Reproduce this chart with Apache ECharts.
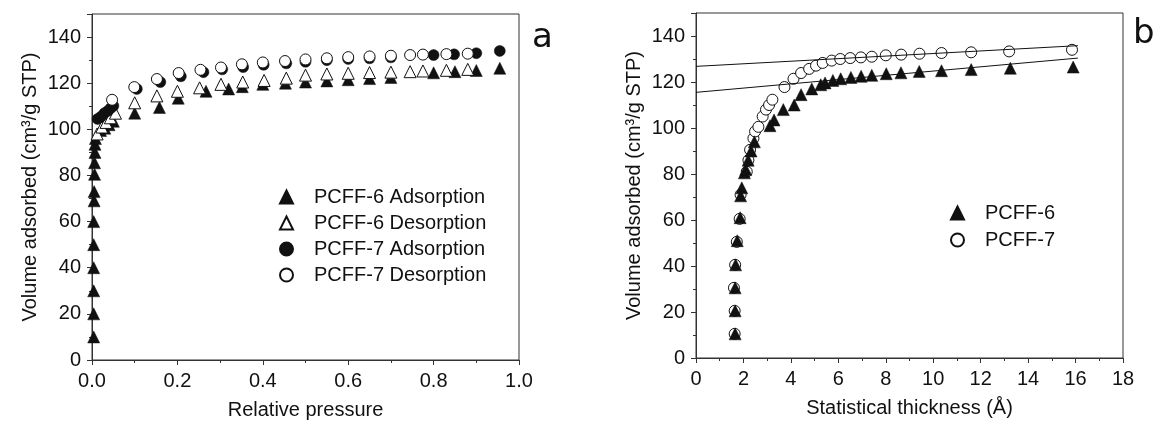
<!DOCTYPE html>
<html>
<head>
<meta charset="utf-8">
<script src="https://cdn.jsdelivr.net/npm/echarts@6/dist/echarts.min.js"></script>
<style>
  html, body { margin: 0; padding: 0; background: #fff; }
  #chart { width: 1163px; height: 425px; }
</style>
</head>
<body>
<div id="chart"></div>
<script>
// panel a: isotherms (relative pressure vs volume adsorbed)
const p6AdsX = [0.004, 0.004, 0.004, 0.004, 0.004, 0.004, 0.005, 0.005, 0.006, 0.006, 0.007, 0.007, 0.008, 0.02, 0.03, 0.04, 0.05, 0.1, 0.158, 0.202, 0.267, 0.32, 0.352, 0.4, 0.453, 0.5, 0.55, 0.6, 0.65, 0.7, 0.8, 0.85, 0.9, 0.955]
const p6AdsY = [10, 20, 30, 40, 50, 60, 69, 73, 80.5, 85.5, 90, 93.5, 96, 99.5, 100.5, 102, 103.5, 107, 109.5, 113.5, 116.5, 117.5, 118.5, 119.5, 120, 120.5, 121, 121.5, 122, 122.5, 124.5, 125, 125.5, 126.5]
const p6DesX = [0.012, 0.023, 0.033, 0.043, 0.055, 0.1, 0.152, 0.2, 0.252, 0.302, 0.353, 0.403, 0.455, 0.5, 0.55, 0.6, 0.65, 0.7, 0.745, 0.775, 0.83, 0.88]
const p6DesY = [98, 101, 103, 105, 107, 111.5, 114.5, 116.5, 118, 119.5, 120.5, 121.2, 122.2, 123.5, 124, 124.3, 124.6, 124.8, 125, 125.3, 125.6, 126]
const p7AdsX = [0.013, 0.021, 0.029, 0.037, 0.044, 0.05, 0.105, 0.16, 0.208, 0.261, 0.305, 0.354, 0.402, 0.455, 0.5, 0.55, 0.6, 0.65, 0.7, 0.8, 0.848, 0.9, 0.955]
const p7AdsY = [104.5, 105.5, 107, 108, 109.2, 110.2, 117.5, 120.5, 123, 124.8, 126, 127, 128, 128.6, 129.3, 130, 130.5, 130.8, 131.2, 132.2, 132.5, 133, 134]
const p7DesX = [0.047, 0.099, 0.152, 0.203, 0.254, 0.302, 0.351, 0.4, 0.452, 0.5, 0.55, 0.6, 0.65, 0.7, 0.745, 0.775, 0.83, 0.88]
const p7DesY = [112.8, 118.3, 121.8, 124.4, 125.8, 126.8, 128.2, 129, 129.6, 130.3, 130.8, 131.3, 131.6, 131.9, 132.2, 132.4, 132.6, 132.8]

// panel b: t-plot (statistical thickness vs volume adsorbed)
const t6X = [1.65, 1.65, 1.65, 1.67, 1.74, 1.86, 1.88, 1.93, 2.04, 2.1, 2.2, 2.32, 2.46, 3.12, 3.29, 3.68, 4.14, 4.43, 4.88, 5.26, 5.44, 5.77, 6.1, 6.53, 6.96, 7.41, 8.02, 8.64, 9.41, 10.35, 11.6, 13.25, 15.9]
const t6Y = [10.5, 20.5, 30.5, 40.5, 51, 61, 70.5, 74, 80.5, 82, 86, 90, 94, 101, 103.5, 108, 110, 114.5, 117, 118.8, 119.6, 120.7, 121.4, 122, 122.5, 122.9, 123.6, 124, 124.6, 124.9, 125.4, 126, 126.5]
const t7X = [1.63, 1.63, 1.6, 1.65, 1.72, 1.84, 1.88, 2.14, 2.21, 2.28, 2.42, 2.49, 2.63, 2.81, 2.95, 3.08, 3.22, 3.73, 4.11, 4.43, 4.77, 5.06, 5.34, 5.72, 6.08, 6.5, 6.95, 7.41, 8.0, 8.65, 9.42, 10.35, 11.6, 13.2, 15.85]
const t7Y = [10.5, 20.5, 30.5, 40.5, 50.5, 60.5, 71, 81, 86, 90.5, 95.5, 98.5, 100.5, 105, 108, 110, 112.3, 117.8, 121.4, 123.9, 125.7, 127.1, 128.3, 129.3, 130, 130.4, 130.7, 131, 131.6, 131.9, 132.3, 132.6, 132.9, 133.3, 134]
// linear fits drawn in panel b (end points)
const fit6X = [0, 16.1]
const fit6Y = [115.5, 130.4]
const fit7X = [0, 16.1]
const fit7Y = [126.8, 135.8]

const FONT = 'Liberation Sans'
const INK = '#111'

function zip(xs, ys) {
  return xs.map((x, i) => [x, ys[i]])
}

function filled(symbol, size) {
  return { symbol: symbol, symbolSize: size, itemStyle: { color: INK, borderColor: INK, borderWidth: 0.5, opacity: 1 } }
}
function hollow(symbol, size) {
  return { symbol: symbol, symbolSize: size, itemStyle: { color: '#fff', borderColor: INK, borderWidth: 1, opacity: 1 } }
}

function xAx(grid, max, interval, name) {
  return {
    type: 'value', gridIndex: grid, min: 0, max: max, interval: interval,
    name: name, nameLocation: 'middle', nameGap: 40,
    nameTextStyle: { fontFamily: FONT, fontSize: 20, color: INK },
    axisLine: { show: true, onZero: false, lineStyle: { color: '#333', width: 1 } },
    axisTick: { show: true, inside: false, length: 5, lineStyle: { color: '#333' } },
    minorTick: { show: true, splitNumber: 2, length: 3, lineStyle: { color: '#333' } },
    axisLabel: { fontFamily: FONT, fontSize: 20, color: INK, margin: 11,
      formatter: (v) => interval < 1 ? v.toFixed(1) : String(v) },
    splitLine: { show: false }
  }
}
function yAx(grid) {
  return {
    type: 'value', gridIndex: grid, min: 0, max: 150, interval: 20,
    name: 'Volume adsorbed (cm³/g STP)', nameLocation: 'middle', nameGap: 52,
    nameTextStyle: { fontFamily: FONT, fontSize: 20, color: INK },
    axisLine: { show: true, onZero: false, lineStyle: { color: '#333', width: 1 } },
    axisTick: { show: true, inside: false, length: 5, lineStyle: { color: '#333' } },
    minorTick: { show: true, splitNumber: 2, length: 3, lineStyle: { color: '#333' } },
    axisLabel: { fontFamily: FONT, fontSize: 20, color: INK, margin: 11, showMaxLabel: false,
      formatter: (v) => (v % 20 === 0 ? String(v) : '') },
    splitLine: { show: false }
  }
}

const chart = echarts.init(document.getElementById('chart'), null, { renderer: 'canvas' })
chart.setOption({
  animation: false,
  backgroundColor: '#fff',
  grid: [
    { left: 92, top: 14, width: 427, height: 346, show: true, borderColor: '#333', borderWidth: 1 },
    { left: 696, top: 13, width: 427, height: 345, show: true, borderColor: '#333', borderWidth: 1 }
  ],
  xAxis: [xAx(0, 1, 0.2, 'Relative pressure'), xAx(1, 18, 2, 'Statistical thickness (Å)')],
  yAxis: [yAx(0), yAx(1)],
  legend: [
    {
      data: ['PCFF-6 Adsorption', 'PCFF-6 Desorption', 'PCFF-7 Adsorption', 'PCFF-7 Desorption'],
      orient: 'vertical', left: 279, top: 187, padding: 0, itemWidth: 13, itemHeight: 13, itemGap: 6,
      textStyle: { fontFamily: FONT, fontSize: 20, color: INK, padding: [0, 0, 0, 16] },
      selectedMode: false
    },
    {
      data: ['PCFF-6', 'PCFF-7'],
      orient: 'vertical', left: 950, top: 203, padding: 0, itemWidth: 13, itemHeight: 13, itemGap: 7,
      textStyle: { fontFamily: FONT, fontSize: 20, color: INK, padding: [0, 0, 0, 16] },
      selectedMode: false
    }
  ],
  graphic: [
    { type: 'text', left: 532, top: 21, style: { text: 'a', font: '34px "DejaVu Sans"', fill: INK } },
    { type: 'text', left: 1133, top: 17, style: { text: 'b', font: '34px "DejaVu Sans"', fill: INK } }
  ],
  series: [
    Object.assign({ name: 'PCFF-6 Adsorption', type: 'scatter', xAxisIndex: 0, yAxisIndex: 0, data: zip(p6AdsX, p6AdsY), z: 2 }, filled('triangle', 12)),
    Object.assign({ name: 'PCFF-6 Desorption', type: 'scatter', xAxisIndex: 0, yAxisIndex: 0, data: zip(p6DesX, p6DesY), z: 3 }, hollow('triangle', 12)),
    Object.assign({ name: 'PCFF-7 Adsorption', type: 'scatter', xAxisIndex: 0, yAxisIndex: 0, data: zip(p7AdsX, p7AdsY), z: 4 }, filled('circle', 11)),
    Object.assign({ name: 'PCFF-7 Desorption', type: 'scatter', xAxisIndex: 0, yAxisIndex: 0, data: zip(p7DesX, p7DesY), z: 5 }, hollow('circle', 11)),
    Object.assign({ name: 'PCFF-7', type: 'scatter', xAxisIndex: 1, yAxisIndex: 1, data: zip(t7X, t7Y), z: 2 }, hollow('circle', 11)),
    Object.assign({ name: 'PCFF-6', type: 'scatter', xAxisIndex: 1, yAxisIndex: 1, data: zip(t6X, t6Y), z: 3 }, filled('triangle', 12)),
    {
      name: 'fit6', type: 'line', xAxisIndex: 1, yAxisIndex: 1, data: zip(fit6X, fit6Y),
      symbol: 'none', lineStyle: { color: INK, width: 1 }, z: 4
    },
    {
      name: 'fit7', type: 'line', xAxisIndex: 1, yAxisIndex: 1, data: zip(fit7X, fit7Y),
      symbol: 'none', lineStyle: { color: INK, width: 1 }, z: 4
    }
  ]
})
</script>
</body>
</html>
